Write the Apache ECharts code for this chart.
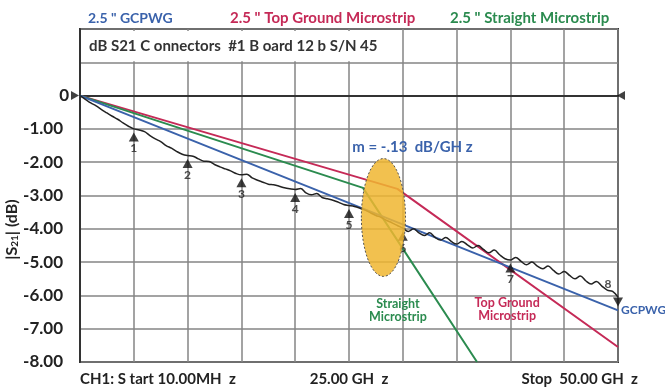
<!DOCTYPE html>
<html><head><meta charset="utf-8">
<script src="https://cdn.jsdelivr.net/npm/echarts@6/dist/echarts.min.js"></script>
<style>html,body{margin:0;padding:0;background:#fff}#c{width:665px;height:391px}</style>
</head><body><div id="c"></div>
<script>
// ---- data ----
const seriesNames = ['2.5 " GCPWG', '2.5 " Top Ground Microstrip', '2.5 " Straight Microstrip'];
const gcpwgGHz = [0, 50];
const gcpwgDb = [0, -6.45];
const topGroundGHz = [0, 29.5, 50];
const topGroundDb = [0, -2.8, -7.55];
const straightGHz = [0, 26.3, 36.9];
const straightDb = [0, -2.77, -8.0];
const measuredGHz = [0,0.5,1,1.5,2,2.5,3,3.5,4,4.5,5,5.5,6,6.5,7,7.5,8,8.5,9,9.5,10,10.5,11,11.5,12,12.5,13,13.5,14,14.5,15,15.5,16,16.5,17,17.5,18,18.5,19,19.5,20,20.5,21,21.5,22,22.5,23,23.5,24,24.5,25,25.5,26,26.5,27,27.5,28,28.5,29,29.5,30,30.5,31,31.5,32,32.5,33,33.5,34,34.5,35,35.5,36,36.5,37,37.5,38,38.5,39,39.5,40,40.5,41,41.5,42,42.5,43,43.5,44,44.5,45,45.5,46,46.5,47,47.5,48,48.5,49,49.5,50];
const measuredDb = [0,-0.11,-0.22,-0.31,-0.42,-0.52,-0.62,-0.71,-0.82,-0.92,-1.0,-1.03,-1.08,-1.2,-1.3,-1.38,-1.5,-1.58,-1.68,-1.76,-1.8,-1.82,-1.9,-1.97,-1.98,-2.07,-2.14,-2.2,-2.26,-2.34,-2.38,-2.36,-2.47,-2.54,-2.6,-2.66,-2.68,-2.72,-2.77,-2.8,-2.82,-2.79,-2.92,-2.98,-2.94,-3.06,-3.1,-3.14,-3.2,-3.27,-3.3,-3.33,-3.38,-3.44,-3.52,-3.6,-3.66,-3.75,-3.82,-3.9,-3.98,-4.08,-4.0,-4.12,-4.2,-4.12,-4.26,-4.34,-4.26,-4.38,-4.46,-4.38,-4.48,-4.58,-4.5,-4.62,-4.72,-4.64,-4.78,-4.9,-4.94,-4.86,-4.98,-5.08,-5.0,-5.12,-5.2,-5.12,-5.25,-5.36,-5.28,-5.4,-5.5,-5.42,-5.56,-5.66,-5.58,-5.72,-5.84,-5.88,-6.05];
const markerGHz = [5, 10, 15, 20, 25, 30, 40, 50];
const markerIds = ['1', '2', '3', '4', '5', '6', '7', '8'];
const yTickValues = [0, -1, -2, -3, -4, -5, -6, -7, -8];
const yTickText = ['0', '-1.00', '-2.00', '-3.00', '-4.00', '-5.00', '-6.00', '-7.00', '-8.00'];
const xLabelGHz = [0, 25, 50];
const xLabelText = ['CH1: S tart 10.00MH  z', '25.00 GH  z', 'Stop  50.00 GH  z'];
const headerText = 'dB S21 C onnectors  #1 B oard 12 b S/N 45';
const slopeText = 'm = -.13  dB/GH z';
const curveLabels = ['GCPWG', 'Top Ground\nMicrostrip', 'Straight\nMicrostrip'];

// ---- styles ----
const BLUE = '#3a62ab', RED = '#c52a57', GREEN = '#2b8b4f', BLACK = '#222';
const FONT = 'Lato, "Open Sans", sans-serif';
const zip = (a, b) => a.map((v, i) => [v, b[i]]);
const markerDb = markerGHz.map(g => measuredDb[measuredGHz.indexOf(g)]);

const chart = echarts.init(document.getElementById('c'));
const legendBase = {top: 6, itemWidth: 0, itemHeight: 0, icon: 'rect', selectedMode: false};
const lt = (color, size) => ({color, fontFamily: FONT, fontSize: size, fontWeight: 'bold'});
chart.setOption({
  animation: false,
  backgroundColor: '#fff',
  legend: [
    Object.assign({}, legendBase, {left: 78, data: [seriesNames[0]], textStyle: lt(BLUE, 14)}),
    Object.assign({}, legendBase, {left: 220, data: [seriesNames[1]], textStyle: lt(RED, 15)}),
    Object.assign({}, legendBase, {left: 440, data: [seriesNames[2]], textStyle: lt(GREEN, 15)})
  ],
  grid: {left: 80, right: 47, top: 29, bottom: 29, containLabel: false, outerBoundsMode: 'none',
    show: true, borderColor: '#333', borderWidth: 2, backgroundColor: 'transparent'},
  xAxis: {type: 'value', min: 0, max: 50, interval: 5,
    axisLine: {show: true, lineStyle: {color: '#333', width: 2}}, axisTick: {show: false}, axisLabel: {show: false},
    splitLine: {show: true, lineStyle: {color: '#858585', width: 1.5}}},
  yAxis: {type: 'value', min: -8, max: 2, interval: 1,
    axisLine: {show: true, lineStyle: {color: '#333', width: 2}}, axisTick: {show: false},
    axisLabel: {fontFamily: FONT, fontSize: 17, fontWeight: 'bold', color: '#222', margin: 11,
      formatter: v => { const i = yTickValues.indexOf(v); if (i < 0) return ''; return v === 0 ? yTickText[i] : '{n|' + yTickText[i] + '}'; },
      rich: {n: {fontFamily: FONT, fontSize: 17, fontWeight: 'bold', color: '#222', padding: [0, 6, 0, 0]}}},
    splitLine: {show: true, lineStyle: {color: '#858585', width: 1.5}},
    name: '|S{sub|21}| (dB)', nameLocation: 'middle', nameRotate: 90, nameGap: 60, nameMoveOverlap: false,
    nameTextStyle: {fontFamily: FONT, fontSize: 16, fontWeight: 'bold', color: '#222', padding: [0, 68, 0, 0],
      rich: {sub: {fontFamily: FONT, fontSize: 10, fontWeight: 'bold', color: '#222', padding: [7, 0, 0, 0]}}}
  },
  series: [
    {name: seriesNames[1], type: 'line', data: zip(topGroundGHz, topGroundDb), showSymbol: false, symbol: 'none',
      lineStyle: {color: RED, width: 2}, itemStyle: {color: RED}, z: 3},
    {name: seriesNames[2], type: 'line', data: zip(straightGHz, straightDb), showSymbol: false, symbol: 'none',
      lineStyle: {color: GREEN, width: 2}, itemStyle: {color: GREEN}, z: 3},
    {name: seriesNames[0], type: 'line', data: zip(gcpwgGHz, gcpwgDb), showSymbol: false, symbol: 'none',
      lineStyle: {color: BLUE, width: 2}, itemStyle: {color: BLUE}, z: 4,
      endLabel: {show: true, formatter: curveLabels[0], color: BLUE, fontFamily: FONT, fontSize: 12, fontWeight: 'bold', distance: 3}},
    {name: 'Measured', type: 'line', data: zip(measuredGHz, measuredDb), showSymbol: false, symbol: 'none', smooth: 0.35,
      lineStyle: {color: BLACK, width: 1.5}, z: 5},
    {name: 'Markers', type: 'scatter', z: 6,
      data: markerGHz.map((g, i) => {
        const last = i === markerGHz.length - 1;
        return {value: [g, markerDb[i]], symbolRotate: last ? 180 : 0, symbolOffset: last ? [0, 5] : [0, 8],
          label: last ? {position: 'top', offset: [-10, -2]} : {position: 'bottom', distance: 1}};
      }),
      symbol: 'triangle', symbolSize: [10, 9], itemStyle: {color: '#111'},
      label: {show: true, formatter: p => markerIds[p.dataIndex], color: '#222', fontFamily: FONT, fontSize: 12, fontWeight: 'bold'}},
    {name: 'Reference', type: 'scatter', z: 6, symbol: 'triangle', symbolSize: [9, 8], itemStyle: {color: '#111'},
      data: [{value: [0, 0], symbolRotate: -90, symbolOffset: [-5, 0]}, {value: [50, 0], symbolRotate: 90, symbolOffset: [3, 0]}]}
  ]
});

const px = (x, y) => chart.convertToPixel({gridIndex: 0}, [x, y]);
const a = px(0, 2), b = px(30, 1);
const ec = px(28.2, -3.66), ex = px(30.25, -3.66), ey = px(28.2, -1.89);
const s = px(25.3, -1.56);
const st = px(29.55, -6.45), tg = px(39.7, -6.42);
const txt = (x, y, text, fill, size, align) => ({type: 'text', x, y, z: 20,
  style: {text, fill, font: 'bold ' + size + 'px ' + FONT, align: align || 'left', verticalAlign: 'middle', lineHeight: size + 1}});
const xl = xLabelGHz.map(g => px(g, -8));
chart.setOption({graphic: [
  {type: 'rect', z: 1, shape: {x: a[0] + 2, y: a[1] + 2, width: b[0] - a[0] - 3, height: b[1] - a[1] - 3}, style: {fill: '#fff'}},
  txt(a[0] + 9, (a[1] + b[1]) / 2 + 1, headerText, '#333', 15),
  {type: 'ellipse', z: 10, shape: {cx: ec[0], cy: ec[1], rx: ex[0] - ec[0], ry: ec[1] - ey[1]},
    style: {fill: 'rgba(240,182,48,0.85)', stroke: '#555', lineWidth: 1, lineDash: [2, 2]}},
  txt(s[0], s[1], slopeText, BLUE, 15),
  txt(st[0], st[1], curveLabels[2], GREEN, 12.5, 'center'),
  txt(tg[0], tg[1], curveLabels[1], RED, 12.5, 'center'),
  txt(xl[0][0], xl[0][1] + 17, xLabelText[0], '#222', 15, 'left'),
  txt(xl[1][0], xl[1][1] + 17, xLabelText[1], '#222', 15, 'center'),
  txt(xl[2][0] + 20, xl[2][1] + 17, xLabelText[2], '#222', 15, 'right')
]});
</script>
</body></html>
